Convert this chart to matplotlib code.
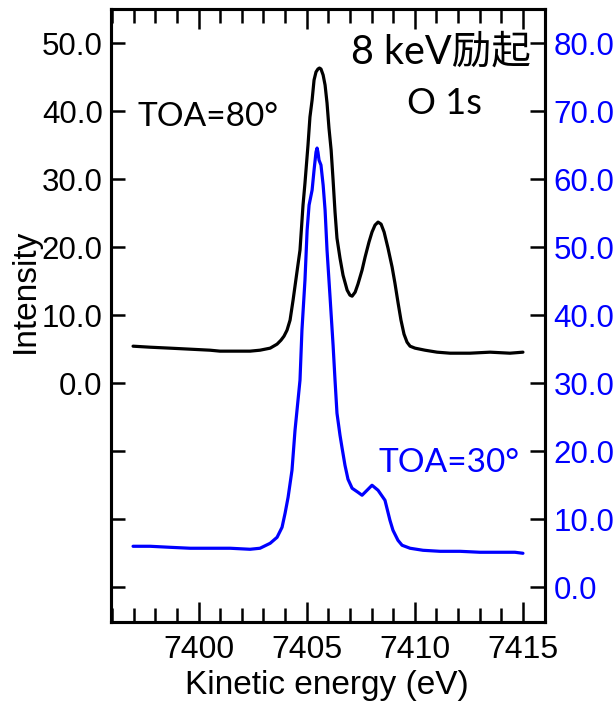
import matplotlib
matplotlib.use("Agg")
import matplotlib.pyplot as plt
from matplotlib.ticker import FixedLocator, FixedFormatter, MultipleLocator

# ---- data ----
energy_80 = [7396.97, 7397.76, 7398.68, 7399.61, 7400.53, 7400.99, 7401.92, 7402.38, 7402.84, 7403.31,
             7403.63, 7403.81, 7403.95, 7404.09, 7404.23, 7404.37, 7404.51, 7404.69, 7404.83, 7404.92,
             7405.06, 7405.15, 7405.25, 7405.34, 7405.43, 7405.52, 7405.59, 7405.66, 7405.76, 7405.85,
             7405.94, 7406.03, 7406.13, 7406.22, 7406.31, 7406.40, 7406.54, 7406.68, 7406.87, 7407.00,
             7407.10, 7407.24, 7407.37, 7407.56, 7407.70, 7407.88, 7408.02, 7408.16, 7408.30, 7408.44,
             7408.58, 7408.76, 7408.95, 7409.08, 7409.22, 7409.36, 7409.50, 7409.64, 7409.78, 7410.01,
             7410.47, 7411.03, 7411.63, 7412.55, 7413.48, 7414.40, 7415.00]
intensity_80 = [5.44, 5.29, 5.15, 5.00, 4.85, 4.71, 4.71, 4.71, 4.85, 5.15,
                5.74, 6.32, 6.91, 7.79, 9.26, 12.21, 15.44, 19.56, 26.18, 29.41,
                35.00, 39.12, 41.62, 44.56, 45.74, 46.18, 46.32, 46.18, 45.29, 43.82,
                41.18, 37.50, 34.26, 29.85, 25.15, 21.32, 18.38, 15.88, 13.68, 12.94,
                12.79, 13.38, 14.56, 16.62, 18.53, 20.74, 22.21, 23.24, 23.68, 23.38,
                22.21, 19.85, 17.06, 14.71, 11.91, 9.26, 7.21, 6.03, 5.44, 5.15,
                4.85, 4.56, 4.41, 4.41, 4.56, 4.41, 4.56]

energy_30 = [7396.97, 7397.76, 7398.68, 7399.61, 7400.53, 7401.46, 7402.38, 7402.84, 7403.31, 7403.63,
             7403.86, 7404.00, 7404.14, 7404.32, 7404.46, 7404.69, 7404.78, 7404.92, 7405.02, 7405.11,
             7405.25, 7405.34, 7405.43, 7405.48, 7405.52, 7405.57, 7405.66, 7405.76, 7405.85, 7405.94,
             7406.08, 7406.22, 7406.31, 7406.40, 7406.54, 7406.63, 7406.77, 7406.91, 7407.10, 7407.37,
             7407.56, 7407.79, 7408.02, 7408.30, 7408.62, 7408.85, 7408.99, 7409.22, 7409.41, 7409.78,
             7410.38, 7411.17, 7412.09, 7413.01, 7413.94, 7414.63, 7415.00]
intensity_30 = [6.03, 6.03, 5.88, 5.74, 5.74, 5.74, 5.59, 5.74, 6.47, 7.35,
                8.82, 10.88, 13.24, 17.21, 23.09, 30.44, 37.79, 45.15, 52.50, 56.18,
                58.38, 61.32, 63.97, 64.56, 63.97, 62.79, 62.06, 59.12, 55.44, 49.56,
                42.65, 35.59, 30.44, 25.59, 22.35, 20.59, 17.94, 15.88, 14.56, 13.97,
                13.53, 14.26, 15.00, 14.26, 12.79, 9.85, 8.38, 6.91, 6.18, 5.74,
                5.44, 5.29, 5.29, 5.15, 5.15, 5.15, 5.00]

left_ticks = [-30, -20, -10, 0, 10, 20, 30, 40, 50]
left_labels = ["", "", "", "0.0", "10.0", "20.0", "30.0", "40.0", "50.0"]
right_ticks = [0, 10, 20, 30, 40, 50, 60, 70, 80]
right_labels = ["0.0", "10.0", "20.0", "30.0", "40.0", "50.0", "60.0", "70.0", "80.0"]
x_ticks = [7400, 7405, 7410, 7415]

TICKFONT = "Liberation Sans"
ANNFONT = ["Lato", "Noto Sans CJK JP"]

fig = plt.figure(figsize=(6.14, 7.03), dpi=100)
ax = fig.add_axes([111/614, 1-622/703, (545-111)/614, (622-9)/703])
ax2 = ax.twinx()

ax.plot(energy_80, intensity_80, color="black", lw=2.3,
        solid_joinstyle="round", solid_capstyle="round")
ax2.plot(energy_30, intensity_30, color="#0000ff", lw=2.3,
         solid_joinstyle="round", solid_capstyle="round")

ax.set_xlim(7395.95, 7416.02)
ax.set_ylim(-35.1, 55.0)
ax2.set_ylim(-5.1, 85.0)

for a in (ax, ax2):
    for s in a.spines.values():
        s.set_linewidth(2.2)

ax.xaxis.set_major_locator(FixedLocator(x_ticks))
ax.xaxis.set_minor_locator(MultipleLocator(1))
ax.tick_params(axis="x", which="major", direction="in", length=14.4, width=1.8,
               top=True, bottom=True, pad=9, labelsize=23)
ax.tick_params(axis="x", which="minor", direction="in", length=10, width=1.8,
               top=True, bottom=True)
for lab in ax.get_xticklabels():
    lab.set_fontfamily(TICKFONT)

ax.yaxis.set_major_locator(FixedLocator(left_ticks))
ax.yaxis.set_major_formatter(FixedFormatter(left_labels))
ax.tick_params(axis="y", direction="in", length=10, width=1.8, pad=6, labelsize=22.5)
for lab in ax.get_yticklabels():
    lab.set_fontfamily(TICKFONT)

ax2.yaxis.set_major_locator(FixedLocator(right_ticks))
ax2.yaxis.set_major_formatter(FixedFormatter(right_labels))
ax2.tick_params(axis="y", direction="in", length=10.8, width=1.8, pad=6,
                labelsize=22.5, labelcolor="#0000ff", color="black")
for lab in ax2.get_yticklabels():
    lab.set_fontfamily(TICKFONT)

ax.set_xlabel("Kinetic energy (eV)", fontsize=24, family=TICKFONT)
ax.xaxis.set_label_coords(0.498, -0.079)
ax.set_ylabel("Intensity", fontsize=24, family=TICKFONT)
ax.yaxis.set_label_coords((41-111)/434, 0.540)

ax.text((441-111)/434, (622-52)/613, "8 keV励起", transform=ax.transAxes,
        ha="center", va="center", fontsize=28.5, family=ANNFONT)
ax.text((444-111)/434, (622-103)/613, "O 1s", transform=ax.transAxes,
        ha="center", va="center", fontsize=26, family=ANNFONT)
ax.text((137-111)/434, (622-117)/613, "TOA=80°", transform=ax.transAxes,
        ha="left", va="center", fontsize=24, family=ANNFONT)
ax.text((449-111)/434, (622-463)/613, "TOA=30°", transform=ax.transAxes,
        ha="center", va="center", fontsize=24, family=ANNFONT, color="#0000ff")

fig.savefig("out.png", dpi=100)
